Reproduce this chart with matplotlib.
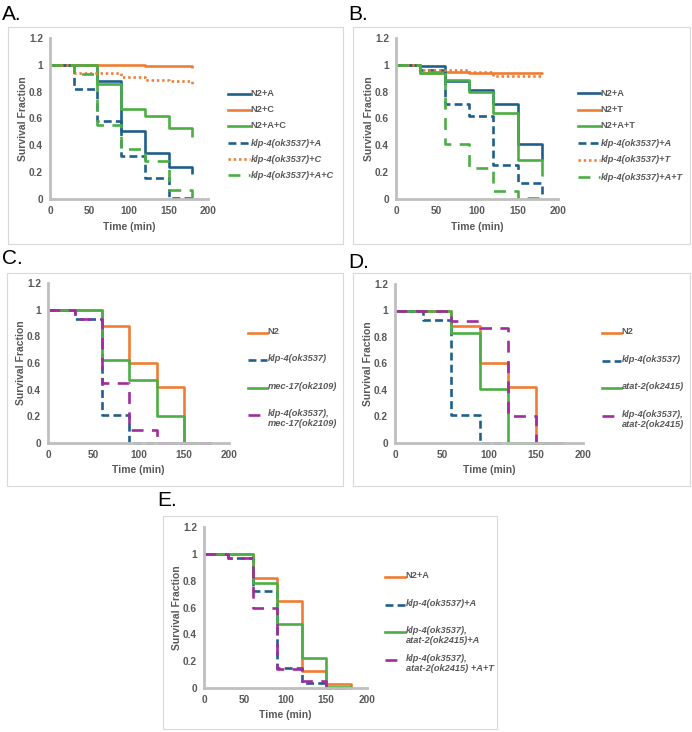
import matplotlib
matplotlib.use("Agg")
import matplotlib.pyplot as plt
from matplotlib.lines import Line2D
from matplotlib.patches import Rectangle

W, H = 692, 732
plt.rcParams['font.family'] = ['Liberation Sans', 'DejaVu Sans']

# ---------------- data ----------------
times = [0, 30, 60, 90, 120, 150, 180]

# Panel A
a_labels = ["N2+A", "N2+C", "N2+A+C", "klp-4(ok3537)+A", "klp-4(ok3537)+C", "klp-4(ok3537)+A+C"]
a_n2_a = [1, 1, 0.88, 0.51, 0.34, 0.24, 0.19]
a_n2_c = [1, 1, 1, 1, 0.99, 0.99, 0.98]
a_n2_ac = [1, 1, 0.86, 0.67, 0.62, 0.53, 0.46]
a_klp_a = [1, 0.82, 0.58, 0.32, 0.16, 0.01, 0]
a_klp_c = [1, 0.94, 0.94, 0.91, 0.89, 0.88, 0.85]
a_klp_ac = [1, 0.93, 0.55, 0.37, 0.28, 0.07, 0]

# Panel B
b_labels = ["N2+A", "N2+T", "N2+A+T", "klp-4(ok3537)+A", "klp-4(ok3537)+T", "klp-4(ok3537)+A+T"]
b_n2_a = [1, 0.99, 0.88, 0.81, 0.71, 0.41, 0.29]
b_n2_t = [1, 0.94, 0.95, 0.94, 0.94, 0.94, 0.93]
b_n2_at = [1, 0.94, 0.89, 0.80, 0.64, 0.29, 0.17]
b_klp_a = [1, 0.96, 0.71, 0.62, 0.25, 0.12, 0]
b_klp_t = [1, 0.96, 0.96, 0.95, 0.92, 0.92, 0.92]
b_klp_at = [1, 0.95, 0.41, 0.23, 0.06, 0.01, 0]

# Panel C
c_labels = ["N2", "klp-4(ok3537)", "mec-17(ok2109)", "klp-4(ok3537),\nmec-17(ok2109)"]
c_n2 = [1, 1, 0.88, 0.60, 0.42, 0, 0]
c_klp = [1, 0.93, 0.21, 0, 0, 0, 0]
c_mec = [1, 1, 0.62, 0.47, 0.20, 0, 0]
c_dbl = [1, 0.93, 0.45, 0.10, 0, 0, 0]

# Panel D
d_labels = ["N2", "klp-4(ok3537)", "atat-2(ok2415)", "klp-4(ok3537),\natat-2(ok2415)"]
d_n2 = [1, 1, 0.88, 0.60, 0.42, 0, 0]
d_klp = [1, 0.93, 0.21, 0, 0, 0, 0]
d_atat = [1, 1, 0.83, 0.41, 0, 0, 0]
d_dbl = [1, 1, 0.92, 0.87, 0.20, 0, 0]

# Panel E
e_labels = ["N2+A", "klp-4(ok3537)+A", "klp-4(ok3537),\natat-2(ok2415)+A", "klp-4(ok3537),\natat-2(ok2415) +A+T"]
e_n2_a = [1, 1, 0.82, 0.65, 0.13, 0.03, 0]
e_klp_a = [1, 0.97, 0.72, 0.15, 0.04, 0, 0]
e_dbl_a = [1, 1, 0.78, 0.48, 0.22, 0.01, 0]
e_dbl_at = [1, 0.97, 0.60, 0.14, 0.05, 0, 0]

x_ticks = [0, 50, 100, 150, 200]
y_ticks = [0, 0.2, 0.4, 0.6, 0.8, 1, 1.2]
y_tick_labels = ["0", "0.2", "0.4", "0.6", "0.8", "1", "1.2"]

# ---------------- styles ----------------
BLUE = "#1f5f8b"
ORANGE = "#f07c33"
GREEN = "#4cae45"
PURPLE = "#a12c9b"
GRAY_TXT = "#595959"
LW = 1.9
LEG_FS = 6.7

st_solid = dict(linestyle="-")
st_dash = dict(linestyle=(0, (3.0, 1.6)))
st_dot = dict(linestyle=(0, (0.9, 1.1)))
st_ldash = dict(linestyle=(0, (4.5, 3.2)))

fig = plt.figure(figsize=(W / 100, H / 100), dpi=100)


def fx(px):
    return px / W


def fy(py):
    return 1 - py / H


def frame(x0, y0, x1, y1):
    fig.patches.append(Rectangle((fx(x0), fy(y1)), fx(x1) - fx(x0), fy(y0) - fy(y1),
                                 transform=fig.transFigure, fill=False,
                                 edgecolor="#d9d9d9", linewidth=0.8, zorder=0))


def make_axes(x0, x1, ytop, ybot):
    ax = fig.add_axes([fx(x0), fy(ybot), fx(x1) - fx(x0), fy(ytop) - fy(ybot)])
    ax.set_xlim(0, 200)
    ax.set_ylim(0, 1.2)
    ax.set_xticks(x_ticks)
    ax.set_yticks(y_ticks)
    ax.set_yticklabels(y_tick_labels)
    for s in ["top", "right"]:
        ax.spines[s].set_visible(False)
    for s in ["left", "bottom"]:
        ax.spines[s].set_color("#bfbfbf")
        ax.spines[s].set_linewidth(2.0)
    ax.tick_params(length=0, labelsize=7.3, labelcolor=GRAY_TXT, pad=5)
    for lab in ax.get_xticklabels() + ax.get_yticklabels():
        lab.set_fontweight("bold")
    ax.set_xlabel("Time (min)", fontsize=7.5, color=GRAY_TXT, fontweight="bold", labelpad=4)
    ax.set_ylabel("Survival Fraction", fontsize=7.5, color=GRAY_TXT, fontweight="bold", labelpad=1)
    ax.patch.set_alpha(0)
    return ax


def draw(ax, series):
    for vals, color, st in series:
        ax.plot(times, vals, drawstyle="steps-post", color=color, lw=LW,
                solid_capstyle="butt", dash_capstyle="butt", clip_on=False, **st)


def legend(labels, series, hx0, hx1, ys, fs=LEG_FS, multi=False):
    for lab, (vals, color, st), y in zip(labels, series, ys):
        fig.add_artist(Line2D([fx(hx0), fx(hx1)], [fy(y), fy(y)], transform=fig.transFigure,
                              color=color, lw=LW, dash_capstyle="butt", **st))
        italic = lab[0].islower()
        if multi:
            fig.text(fx(hx1 + 0.5), fy(y - 6), lab, fontsize=fs, color=GRAY_TXT,
                     fontweight="bold", style="italic" if italic else "normal",
                     va="top", ha="left", linespacing=1.2, transform=fig.transFigure)
        else:
            fig.text(fx(hx1 + 0.5), fy(y), lab, fontsize=fs, color=GRAY_TXT,
                     fontweight="bold", style="italic" if italic else "normal",
                     va="center", ha="left", transform=fig.transFigure)


def panel_label(txt, x, y):
    fig.text(fx(x), fy(y), txt, fontsize=15, color="black", va="center", ha="left")


# ---------- Panel A ----------
frame(8, 27, 343, 244)
panel_label("A.", 2, 14)
axA = make_axes(50, 208, 38, 199)
serA = [(a_n2_a, BLUE, st_solid), (a_n2_c, ORANGE, st_solid), (a_n2_ac, GREEN, st_solid),
        (a_klp_a, BLUE, st_dash), (a_klp_c, ORANGE, st_dot), (a_klp_ac, GREEN, st_ldash)]
draw(axA, serA)
legend(a_labels, serA, 228, 250, [94, 110, 126, 143, 159, 175])

# ---------- Panel B ----------
frame(353, 27, 690, 244)
panel_label("B.", 348, 14)
axB = make_axes(396, 558, 38, 199)
serB = [(b_n2_a, BLUE, st_solid), (b_n2_t, ORANGE, st_solid), (b_n2_at, GREEN, st_solid),
        (b_klp_a, BLUE, st_dash), (b_klp_t, ORANGE, st_dot), (b_klp_at, GREEN, st_ldash)]
draw(axB, serB)
legend(b_labels, serB, 578, 600, [93, 110, 126, 143, 160, 177])

# ---------- Panel C ----------
frame(7, 273, 343, 486)
panel_label("C.", 2, 259)
axC = make_axes(48, 229, 283, 443)
serC = [(c_n2, ORANGE, st_solid), (c_klp, BLUE, st_dash), (c_mec, GREEN, st_solid),
        (c_dbl, PURPLE, st_ldash)]
draw(axC, serC)
legend(c_labels, serC, 248, 267, [333, 360, 388, 415], multi=True)

# ---------- Panel D ----------
frame(353, 273, 690, 486)
panel_label("D.", 348, 262)
axD = make_axes(395, 583, 284, 443)
serD = [(d_n2, ORANGE, st_solid), (d_klp, BLUE, st_dash), (d_atat, GREEN, st_solid),
        (d_dbl, PURPLE, st_ldash)]
draw(axD, serD)
legend(d_labels, serD, 602, 621, [333, 361, 388, 416], multi=True)

# ---------- Panel E ----------
frame(163, 516, 497, 729)
panel_label("E.", 157, 501)
axE = make_axes(204, 367, 527, 688)
serE = [(e_n2_a, ORANGE, st_solid), (e_klp_a, BLUE, st_dash), (e_dbl_a, GREEN, st_solid),
        (e_dbl_at, PURPLE, st_ldash)]
draw(axE, serE)
legend(e_labels, serE, 385, 405, [577, 605, 632, 660], multi=True)

fig.savefig("out.png", dpi=100)
